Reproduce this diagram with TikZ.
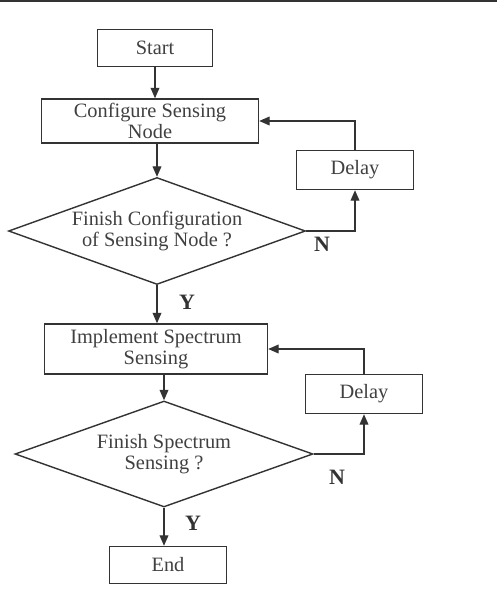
\documentclass[tikz,border=0pt]{standalone}
\usepackage{fontspec}
\setmainfont{Liberation Serif}
\usetikzlibrary{shapes.geometric,arrows.meta}

\tikzset{
  caja/.style={draw=black!80, line width=0.8pt, align=center, inner sep=0pt, text=black!75},
  rombo/.style={diamond, aspect=2.78, draw=black!80, line width=0.8pt, align=center, inner sep=0pt, text=black!75},
  flecha/.style={draw=black!80, line width=0.8pt, -{Triangle[length=6pt,width=5pt]}},
  etiqueta/.style={font=\fontsize{12.5}{13}\selectfont\bfseries, text=black!80}
}

\begin{document}
\begin{tikzpicture}[x=0.02cm, y=-0.02cm, font=\fontsize{11.6}{12}\selectfont]
                        \useasboundingbox (0,0) rectangle (497,601);

                        % Línea superior del marco
                        \draw[black!80, line width=1.2pt] (0,1) -- (497,1);

                        % Cajas del diagrama
                        \node[caja, minimum width=2.3cm, minimum height=0.74cm] (start) at (155,48) {Start};
                        \node[caja, minimum width=4.34cm, minimum height=0.88cm] (conf) at (150,121) {Configure Sensing\\Node};
                        \node[rombo, minimum width=5.94cm, minimum height=2.14cm] (dec1) at (157,231) {Finish Configuration\\of Sensing Node ?};
                        \node[caja, minimum width=2.34cm, minimum height=0.78cm] (delay1) at (355,170) {Delay};
                        \node[caja, minimum width=4.46cm, minimum height=1.0cm] (impl) at (156,349) {Implement Spectrum\\Sensing};
                        \node[rombo, minimum width=5.96cm, minimum height=2.12cm] (dec2) at (164,454) {Finish Spectrum\\Sensing ?};
                        \node[caja, minimum width=2.34cm, minimum height=0.78cm] (delay2) at (364,394) {Delay};
                        \node[caja, minimum width=2.34cm, minimum height=0.74cm] (end) at (168,565) {End};

                        % Flechas principales
                        \draw[flecha] (start.south) -- (start.south |- conf.north);
                        \draw[flecha] (dec1.north |- conf.south) -- (dec1.north);
                        \draw[flecha] (dec1.south) -- (dec1.south |- impl.north);
                        \draw[flecha] (dec2.north |- impl.south) -- (dec2.north);
                        \draw[flecha] (dec2.south) -- (dec2.south |- end.north);

                        % Lazos de espera
                        \draw[flecha] (dec1.east) -| (delay1.south);
                        \draw[flecha] (delay1.north) |- (conf.east);
                        \draw[flecha] (dec2.east) -| (delay2.south);
                        \draw[flecha] (delay2.north) |- (impl.east);

                        % Letras Y / N
                        \node[etiqueta] (n1) at (322,244) {N};
                        \node[etiqueta] (y1) at (187,302) {Y};
                        \node[etiqueta] (n2) at (337,477) {N};
                        \node[etiqueta] (y2) at (193,523) {Y};
                    \end{tikzpicture}
\end{document}
